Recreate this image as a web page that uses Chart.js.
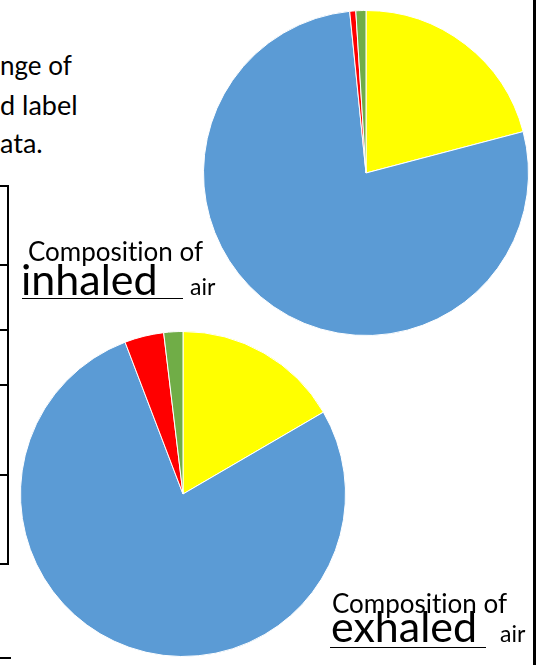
<!DOCTYPE html>
<html>
<head>
    <title>Composition of air</title>
    <script src="https://cdn.jsdelivr.net/npm/chart.js@4"></script>
    <style>
        body { margin: 0; background: #fff; font-family: Lato, "Open Sans", sans-serif; color: #000; }
        #page { position: relative; width: 537px; height: 665px; overflow: hidden; }
        .txt { position: absolute; white-space: nowrap; line-height: 1; font-variant-ligatures: none; }
        .ln { position: absolute; background: #000; }
        canvas { position: absolute; }
    </style>
</head>

<body>
<div id="page">
    <div class="txt" style="left:0;top:52px;font-size:26px">nge of</div>
    <div class="txt" style="left:0;top:91px;font-size:27px">d label</div>
    <div class="txt" style="left:0;top:129px;font-size:27px">ata.</div>

    <!-- table edge -->
    <div class="ln" style="left:7px;top:185px;width:2px;height:380px"></div>
    <div class="ln" style="left:0;top:185px;width:9px;height:2px"></div>
    <div class="ln" style="left:0;top:264px;width:9px;height:2px"></div>
    <div class="ln" style="left:0;top:329px;width:9px;height:2px"></div>
    <div class="ln" style="left:0;top:384px;width:9px;height:2px"></div>
    <div class="ln" style="left:0;top:474px;width:9px;height:2px"></div>
    <div class="ln" style="left:0;top:563px;width:9px;height:2px"></div>
    <div class="ln" style="left:0;top:657px;width:11px;height:2px"></div>
    <div class="ln" style="left:533px;top:0;width:3px;height:665px"></div>

    <canvas id="inhaledPie" width="326" height="326" style="left:203px;top:10px"></canvas>
    <canvas id="exhaledPie" width="328" height="326" style="left:19px;top:331px"></canvas>

    <div class="txt" style="left:28px;top:238px;font-size:26px">Composition of</div>
    <div class="txt" style="left:21px;top:257px;font-size:43px">inhaled</div>
    <div class="ln" style="left:22px;top:298px;width:161px;height:1px"></div>
    <div class="txt" style="left:190px;top:275px;font-size:23px">air</div>

    <div class="txt" style="left:332px;top:590px;font-size:26px">Composition of</div>
    <div class="txt" style="left:331px;top:604px;font-size:43px">exhaled</div>
    <div class="ln" style="left:330px;top:647px;width:156px;height:1px"></div>
    <div class="txt" style="left:500px;top:622px;font-size:23px">air</div>
</div>

<script>
    var gases = ["Oxygen", "Nitrogen", "Carbon dioxide", "Other gases"];
    var inhaledValues = [20.9, 77.5, 0.6, 1.0];
    var exhaledValues = [16.6, 77.6, 3.9, 1.9];
    var sliceColors = ["#ffff00", "#5b9bd5", "#ff0000", "#70ad47"];

    function makePie(id, values) {
        new Chart(id, {
            type: "pie",
            data: {
                labels: gases,
                datasets: [{
                    data: values,
                    backgroundColor: sliceColors,
                    borderColor: "#ffffff",
                    borderWidth: 1,
                    hoverOffset: 0
                }]
            },
            options: {
                responsive: false,
                animation: false,
                layout: {padding: 0},
                plugins: {
                    legend: {display: false},
                    tooltip: {enabled: false}
                }
            }
        });
    }

    makePie("inhaledPie", inhaledValues);
    makePie("exhaledPie", exhaledValues);
</script>
</body>
</html>
